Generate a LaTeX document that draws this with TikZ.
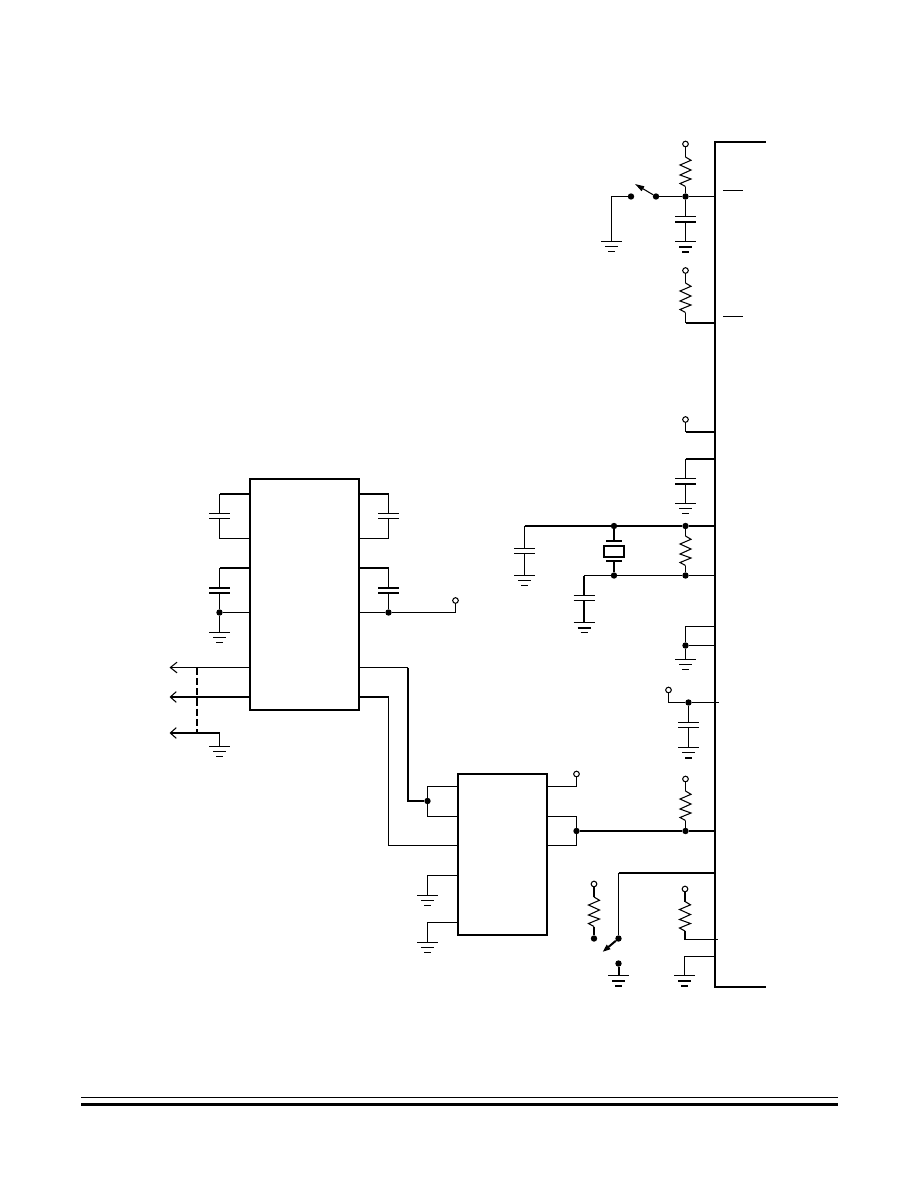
\documentclass[tikz,border=0pt]{standalone}
\usepackage{tikz}
\usetikzlibrary{arrows.meta}

\tikzset{
  wire/.style={line width=0.8pt},
  bus/.style={line width=1.5pt},
  busdn/.style={line width=1.5pt,yshift=-0.375pt},
  chip/.style={line width=1.5pt},
  dot/.style={circle,draw=none,fill=black,inner sep=0pt,minimum size=4.8pt},
  term/.style={circle,draw=black,fill=white,line width=0.8pt,inner sep=0pt,minimum size=4.2pt},
  pics/ressym/.style={code={
    \coordinate (-a) at (0,0);
    \coordinate (-b) at (0,29.5);
    \draw[wire] (0,0) -- (5.5,3.3) -- (-5.5,8) -- (5.5,13) -- (-5.5,18) -- (5.5,22) -- (-5.5,26.5) -- (0,29.5);
  }},
  pics/capsym/.style n args={2}{code={
    \coordinate (-a) at (0,0);
    \coordinate (-b) at (0,5);
    \draw[#1] (-10.5,0) -- (10.5,0);
    \draw[#2] (-10.5,5) -- (10.5,5);
  }},
  pics/gndsym/.style n args={2}{code={
    \coordinate (-a) at (0,0);
    \draw[wire] (-10.5,0) -- (10.5,0);
    \draw[#1] (-6.5,5) -- (6.5,5);
    \draw[#2] (-3.5,10) -- (3.5,10);
  }}
}

\begin{document}
\begin{tikzpicture}[x=0.75pt,y=-0.75pt]
   \useasboundingbox (0,0) rectangle (918,1188);

   %main bus
   \coordinate (busT) at (765.5,142);
   \coordinate (busTc) at (715,142);
   \coordinate (busBc) at (715,986.5);
   \coordinate (busB) at (765.5,986.5);
   \draw[bus] (busT) -- (busTc) -- (busBc) -- (busB);

   %reset switch
   \node[term] (t1) at (685.5,144) {};
   \pic (r1) at (685.5,157) {ressym};
   \node[dot] (j1) at (685.5,196.5) {};
   \node[dot] (sw1a) at (656,196.5) {};
   \node[dot] (sw1b) at (631,196.5) {};
   \coordinate (sw1tip) at (635,184);
   \coordinate (b1) at (715,196.5);
   \coordinate (g1) at (611.5,241.5);
   \pic at (g1) {gndsym={wire}{wire}};
   \pic (c1) at (685.5,216.5) {capsym={wire}{busdn}};
   \pic (g2) at (685.5,241.5) {gndsym={busdn}{busdn}};
   \coordinate (bar1a) at (723,190.5);
   \coordinate (bar1b) at (743,190.5);
   \node[term] (t2) at (685.5,270.5) {};
   \pic (r2) at (685.5,283) {ressym};
   \coordinate (k2) at (685.5,323);
   \coordinate (b2) at (715,323);
   \coordinate (bar2a) at (723,316.5);
   \coordinate (bar2b) at (743,316.5);

   %supply and crystal
   \node[term] (t3) at (685.5,419.5) {};
   \coordinate (k3) at (685.5,432);
   \coordinate (b3) at (715,432);
   \coordinate (k4) at (685.5,459);
   \coordinate (b4) at (715,459);
   \pic (c4) at (685.5,478.5) {capsym={wire}{busdn}};
   \pic (g4) at (685.5,503.5) {gndsym={wire}{wire}};

   \coordinate (k5) at (524.5,526);
   \node[dot] (j5a) at (614,526) {};
   \node[dot] (j5b) at (685.5,526) {};
   \coordinate (b5) at (715,526);
   \pic (c5) at (524.5,548.5) {capsym={wire}{wire}};
   \pic (g5) at (524.5,575.5) {gndsym={wire}{wire}};
   \coordinate (x1) at (614,541);
   \coordinate (x2) at (614,561);
   \draw[bus] (606,541) -- (622,541);
   \draw[bus] (606,561) -- (622,561);
   \draw[bus] (604,546) rectangle (624,557);
   \pic (r5) at (685.5,536) {ressym};
   \coordinate (k6) at (584,575.5);
   \node[dot] (j6a) at (614,575.5) {};
   \node[dot] (j6b) at (685.5,575.5) {};
   \coordinate (b6) at (715,575.5);
   \pic (c6) at (584,595.5) {capsym={wire}{wire}};
   \pic (g6) at (584,622.5) {gndsym={busdn}{wire}};

   %tied pins to ground
   \coordinate (k7) at (685.5,626.5);
   \coordinate (b7) at (715,626.5);
   \node[dot] (j8) at (685.5,645.5) {};
   \coordinate (b8) at (715,645.5);
   \pic (g8) at (685.5,659.5) {gndsym={wire}{wire}};

   %decoupled supply
   \node[term] (t9) at (668.5,690) {};
   \coordinate (k9) at (668.5,702.5);
   \node[dot] (j9) at (688.5,702.5) {};
   \coordinate (b9) at (719,702.5);
   \pic (c9) at (688.5,722.5) {capsym={wire}{wire}};
   \pic (g9) at (688.5,747.5) {gndsym={wire}{busdn}};

   %pullup on serial line
   \node[term] (t10) at (685.5,779) {};
   \pic (r10) at (685.5,791) {ressym};
   \node[dot] (j10) at (685.5,831) {};
   \coordinate (b10) at (715,831);

   %bottom switch
   \coordinate (b11) at (715,873);
   \coordinate (k11) at (618.5,873);
   \node[dot] (sw2a) at (618.5,938.5) {};
   \coordinate (sw2tip) at (602.5,952);
   \node[dot] (sw2b) at (618.5,963.5) {};
   \pic (g11) at (618.5,975.5) {gndsym={busdn}{busdn}};
   \node[term] (t12) at (594,884) {};
   \pic (r12) at (594,897) {ressym};
   \node[dot] (j12) at (594,938.5) {};

   %last pins
   \node[term] (t13) at (685,889) {};
   \pic (r13) at (685,901.5) {ressym};
   \coordinate (k13) at (685,939.5);
   \coordinate (b13) at (717.5,939.5);
   \coordinate (b14) at (715,956.5);
   \coordinate (k14) at (684.5,956.5);
   \pic (g14) at (684.5,975.5) {gndsym={busdn}{busdn}};

   %driver chip
   \coordinate (u1a) at (250,479);
   \coordinate (u1b) at (358.5,709.5);
   \draw[chip] (u1a) rectangle (u1b);
   \coordinate (l1) at (250,494);
   \coordinate (l2) at (250,538.5);
   \coordinate (l3) at (250,568);
   \coordinate (l4) at (250,612.5);
   \coordinate (l5) at (250,667.5);
   \coordinate (l6) at (250,697);
   \coordinate (m1) at (358.5,494);
   \coordinate (m2) at (358.5,538.5);
   \coordinate (m3) at (358.5,568);
   \coordinate (m4) at (358.5,612.5);
   \coordinate (m5) at (358.5,667.5);
   \coordinate (m6) at (358.5,697);
   \coordinate (n1) at (219.5,494);
   \coordinate (n2) at (219.5,538.5);
   \coordinate (n3) at (219.5,568);
   \node[dot] (n4) at (219.5,612.5) {};
   \coordinate (p1) at (388.5,494);
   \coordinate (p2) at (388.5,538.5);
   \coordinate (p3) at (388.5,568);
   \node[dot] (p4) at (388.5,612.5) {};
   \pic (c11) at (219.5,513.5) {capsym={wire}{wire}};
   \pic (c12) at (219.5,588) {capsym={bus}{bus}};
   \pic (c13) at (388.5,513.5) {capsym={wire}{wire}};
   \pic (c14) at (388.5,588) {capsym={bus}{bus}};
   \pic (g15) at (219.5,632.5) {gndsym={wire}{wire}};
   \node[term] (t15) at (455.5,600.5) {};
   \coordinate (a1) at (169.5,667.5);
   \coordinate (a2) at (169.5,697);
   \coordinate (a3) at (169.5,733);
   \coordinate (s1) at (197,667.5);
   \coordinate (s3) at (197,733);
   \coordinate (n5) at (219.5,733);
   \pic (g16) at (219.5,746.5) {gndsym={wire}{wire}};

   %interface chip
   \coordinate (u2a) at (458,774);
   \coordinate (u2b) at (547,935);
   \draw[chip] (u2a) rectangle (u2b);
   \coordinate (q1) at (458,786.5);
   \coordinate (q2) at (458,816.5);
   \coordinate (q3) at (458,845.5);
   \coordinate (q4) at (458,875.5);
   \coordinate (q5) at (458,922.5);
   \coordinate (v1) at (547,786.5);
   \coordinate (v2) at (547,816.5);
   \coordinate (v3) at (547,845.5);
   \coordinate (w1) at (427.5,786.5);
   \coordinate (w2) at (427.5,816.5);
   \node[dot] (j16) at (427.5,801) {};
   \coordinate (w3) at (388.5,845.5);
   \coordinate (w4) at (427.5,875.5);
   \coordinate (w5) at (427.5,922.5);
   \pic (g17) at (427.5,895.5) {gndsym={wire}{wire}};
   \pic (g18) at (427.5,942.5) {gndsym={wire}{wire}};
   \coordinate (y1) at (408,801);
   \node[term] (t17) at (576.5,774) {};
   \coordinate (z1) at (576.5,786.5);
   \coordinate (z2) at (576.5,816.5);
   \coordinate (z3) at (576.5,845.5);
   \node[dot] (j17) at (576.5,831) {};

  \path[draw,wire]
    (t1) -- (r1-a)
    (r1-b) -- (j1)
    (sw1a) -- (j1) -- (b1)
    (sw1b) -| (g1)
    (j1) -- (c1-a)
    (c1-b) -- (g2-a)
    (bar1a) -- (bar1b)
    (t2) -- (r2-a)
    (r2-b) -- (k2)
    (bar2a) -- (bar2b)

    (t3) -- (k3)
    (k4) -- (c4-a)
    (c4-b) -- (g4-a)
    (k5) -- (c5-a)
    (c5-b) -- (g5-a)
    (j5b) -- (r5-a)
    (r5-b) -- (j6b)
    (k6) -- (j6a) -- (j6b) -- (b6)

    (b7) -- (k7) -- (j8) -- (g8-a)
    (j8) -- (b8)

    (t9) -- (k9) -- (j9) -- (b9)
    (j9) -- (c9-a)
    (c9-b) -- (g9-a)

    (t10) -- (r10-a)
    (r10-b) -- (j10)

    (k11) -- (sw2a)
    (k13) -- (b13)
    (b14) -- (k14) -- (g14-a)

    (n1) -- (c11-a)
    (c11-b) -- (n2) -- (l2)
    (n3) -- (c12-a)
    (c12-b) -- (n4) -- (l4)
    (n4) -- (g15-a)
    (p1) -- (c13-a)
    (c13-b) -- (p2) -- (m2)
    (p3) -- (c14-a)
    (c14-b) -- (p4) -- (m4)
    (p4) -| (t15)
    (n5) -- (g16-a)
    (m5) -- (y1 |- m5)

    (q1) -- (w1) -- (w2) -- (q2)
    (q3) -- (w3) -- (w3 |- m6)
    (q4) -- (w4) -- (g17-a)
    (q5) -- (w5) -- (g18-a)
    (t17) -- (z1) -- (v1)
    (v2) -- (z2) -- (z3) -- (v3);

  \path[draw,bus]
    (k2) -- (b2)
    (k3) -- (b3)
    (k4) -- (b4)
    (k5) -- (j5a) -- (j5b) -- (b5)
    (j5a) -- (x1)
    (x2) -- (j6a)
    (k6) -- (c6-a)
    (c6-b) -- (g6-a)
    (j10) -- (b10)
    (j17) -- (j10)
    (k11) -- (b11)
    (sw2b) -- (g11-a)
    (t12) -- (r12-a)
    (r12-b) -- (j12)
    (t13) -- (r13-a)
    (r13-b) -- (k13)
    (l1) -- (n1)
    (l3) -- (n3)
    (m1) -- (p1)
    (m3) -- (p3)
    (m6) -- (w3 |- m6)
    (y1 |- m5) -- (y1) -- (j16);

  %outputs
  \draw[wire,-{Straight Barb[length=5pt,width=8pt]}] (l5) -- (a1);
  \draw[bus,-{Straight Barb[length=4.5pt,width=8pt,line width=0.8pt]}] (l6) -- (a2);
  \draw[bus,-{Straight Barb[length=4.5pt,width=8pt,line width=0.8pt]}] (n5) -- (a3);
  \draw[bus,dash pattern=on 5.5pt off 2.2pt] (s1) -- (s3);

  %switch arms
  \draw[wire,-{Triangle[length=7pt,width=4pt]}] (sw1a) -- (sw1tip);
  \draw[bus,-{Triangle[length=6pt,width=4pt]}] (sw2a) -- (sw2tip);

  %footer
  \coordinate (f1) at (81,1097.5);
  \coordinate (f2) at (838,1097.5);
  \coordinate (f3) at (81,1104.5);
  \coordinate (f4) at (838,1104.5);
  \draw[line width=1.1pt] (f1) -- (f2);
  \draw[line width=2.3pt] (f3) -- (f4);
  \end{tikzpicture}
\end{document}
